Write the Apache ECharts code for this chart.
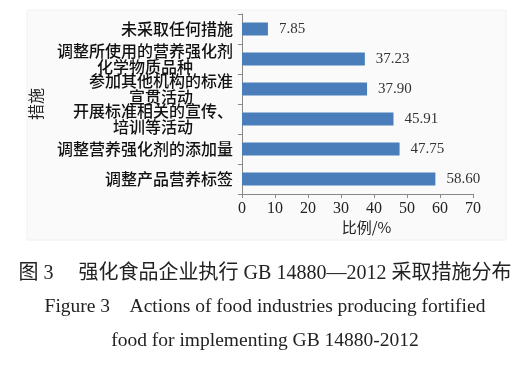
<!DOCTYPE html>
<html><head><meta charset="utf-8">
<script src="https://cdn.jsdelivr.net/npm/echarts@6/dist/echarts.min.js"></script>
<style>html,body{margin:0;padding:0;background:#fff}#c{width:530px;height:370px}</style>
</head><body><div id="c"></div>
<script>
const categories = ['调整产品营养标签','调整营养强化剂的添加量','开展标准相关的宣传、\n培训等活动','参加其他机构的标准\n宣贯活动','调整所使用的营养强化剂\n化学物质品种','未采取任何措施'];
const values = [58.60, 47.75, 45.91, 37.90, 37.23, 7.85];
const xTicks = [0, 10, 20, 30, 40, 50, 60, 70];
const xAxisName = '比例/%';
const yAxisName = '措施';
const captionZh = '图 3　 强化食品企业执行 GB 14880—2012 采取措施分布';
const captionEn1 = 'Figure 3    Actions of food industries producing fortified';
const captionEn2 = 'food for implementing GB 14880-2012';

const serif = '"Liberation Serif","Noto Sans CJK SC",serif';
const sans = '"Noto Sans CJK SC",sans-serif';
const chart = echarts.init(document.getElementById('c'));
chart.setOption({
  backgroundColor: '#fff',
  animation: false,
  graphic: [
    {type:'rect', shape:{x:27,y:10,width:479,height:230}, style:{fill:'#fafafa', stroke:'#f0f0f0', lineWidth:1}, z:-10},
    {type:'text', left:'center', top:264, style:{text:captionZh, font:'20px '+serif, fill:'#222'}},
    {type:'text', left:'center', top:297, style:{text:captionEn1, font:'19.5px '+serif, fill:'#222'}},
    {type:'text', left:'center', top:331, style:{text:captionEn2, font:'19.5px '+serif, fill:'#222'}}
  ],
  grid: {left:242, right:57, top:14, height:180, containLabel:false},
  xAxis: {
    type:'value', min:xTicks[0], max:xTicks[xTicks.length-1], interval:10,
    name:xAxisName, nameLocation:'middle', nameGap:26,
    nameTextStyle:{fontFamily:sans, fontSize:15, color:'#222', padding:[0,0,0,18]},
    axisLine:{show:true, lineStyle:{color:'#888'}},
    axisTick:{show:true, length:4, lineStyle:{color:'#888'}},
    axisLabel:{margin:7, fontFamily:serif, fontSize:16, color:'#222'},
    splitLine:{show:false}
  },
  yAxis: {
    type:'category', data:categories,
    name:yAxisName, nameLocation:'middle', nameGap:198,
    nameTextStyle:{fontFamily:sans, fontSize:16, color:'#222'},
    axisLine:{show:true, lineStyle:{color:'#888'}},
    axisTick:{show:true, length:4, lineStyle:{color:'#888'}},
    axisLabel:{margin:9, fontFamily:sans, fontSize:16, color:'#111', lineHeight:16,
      formatter: v => '{c|' + v + '}', rich:{c:{align:'center', fontFamily:sans, fontSize:16, fontWeight:500, color:'#111', lineHeight:16}}}
  },
  series: [{
    type:'bar', data:values, barWidth:13,
    itemStyle:{color:'#4a7ebb'},
    label:{show:true, position:'right', distance:11, fontFamily:serif, fontSize:15, color:'#333',
      formatter: p => p.value.toFixed(2)}
  }]
});
</script></body></html>
